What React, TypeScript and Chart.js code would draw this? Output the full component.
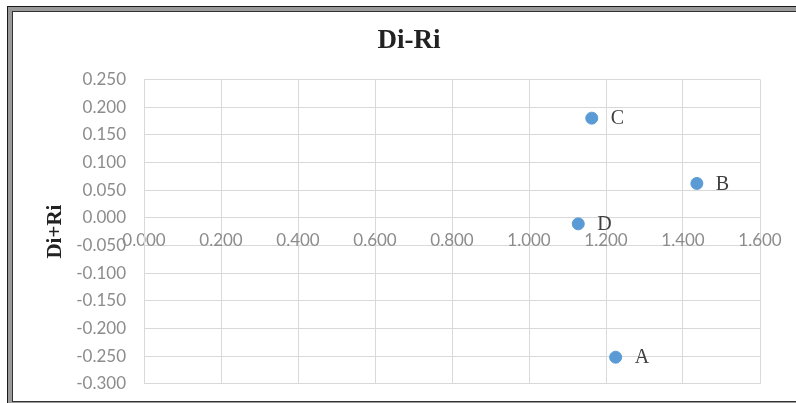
import React, { useEffect, useRef } from "react";
import { Chart, registerables } from "chart.js";

Chart.register(...registerables);

const chartTitle = "Di-Ri";
const yAxisTitle = "Di+Ri";
const pointLabels = ["A", "B", "C", "D"];
const xValues = [1.225, 1.436, 1.163, 1.128];
const yValues = [-0.252, 0.062, 0.18, -0.011];
const xMin = 0;
const xMax = 1.6;
const xStep = 0.2;
const yMin = -0.3;
const yMax = 0.25;
const yStep = 0.05;

const fmt = (v: number) => (Math.abs(v) < 1e-9 ? 0 : v).toFixed(3);

const labelPlugin = {
  id: "pointLabelsPlugin",
  afterDatasetsDraw(chart: any) {
    const ctx = chart.ctx;
    const meta = chart.getDatasetMeta(0);
    ctx.save();
    ctx.font = '20px "Liberation Serif"';
    ctx.fillStyle = "#404040";
    ctx.textAlign = "left";
    ctx.textBaseline = "middle";
    meta.data.forEach((el: any, i: number) => {
      ctx.fillText(pointLabels[i], el.x + 19, el.y + 1);
    });
    ctx.restore();
  },
};

export default function App() {
  const ref = useRef<HTMLCanvasElement | null>(null);

  useEffect(() => {
    if (!ref.current) return;
    const gridColor = "#d9d9d9";
    const tickFont = { family: "Lato", size: 17 };
    const chart = new Chart(ref.current, {
      type: "scatter",
      data: {
        datasets: [
          {
            data: xValues.map((x, i) => ({ x, y: yValues[i] })),
            backgroundColor: "#5b9bd5",
            borderColor: "#5b9bd5",
            pointRadius: 6,
            pointHoverRadius: 6,
            yAxisID: "y",
          },
        ],
      },
      options: {
        animation: false,
        responsive: false,
        devicePixelRatio: 1,
        layout: { padding: { left: 0, right: 0, top: 0, bottom: 4 } },
        plugins: {
          legend: { display: false },
          tooltip: { enabled: false },
          title: {
            display: true,
            text: chartTitle,
            color: "#222222",
            font: { family: "Liberation Serif", size: 27, weight: "bold" },
            padding: { top: 12, bottom: 22 },
          },
        },
        scales: {
          x: {
            type: "linear",
            position: { y: 0 } as any,
            min: xMin,
            max: xMax,
            grid: { color: gridColor, drawTicks: false },
            border: { color: gridColor },
            ticks: {
              stepSize: xStep,
              color: "#8c8c8c",
              font: tickFont,
              padding: 13,
              maxRotation: 0,
              autoSkip: false,
              callback: (v: any) => fmt(Number(v)),
            },
            afterFit: (s: any) => {
              s.height = 0;
            },
          },
          y: {
            type: "linear",
            position: "left",
            min: yMin,
            max: yMax,
            grid: { color: gridColor, drawTicks: false },
            border: { color: gridColor },
            ticks: {
              stepSize: yStep,
              color: "#8c8c8c",
              font: tickFont,
              padding: 18,
              autoSkip: false,
              callback: (v: any) => fmt(Number(v)),
            },
            title: {
              display: true,
              text: yAxisTitle,
              color: "#222222",
              font: { family: "Liberation Serif", size: 21, weight: "bold" },
              padding: { top: 29, bottom: 0 },
            },
            afterFit: (s: any) => {
              s.width = 130;
            },
          },
          y2: {
            type: "linear",
            position: "right",
            min: yMin,
            max: yMax,
            grid: { display: false, drawTicks: false },
            border: { display: false },
            ticks: { display: false },
            afterFit: (s: any) => {
              s.width = 44;
            },
          },
        },
      },
      plugins: [labelPlugin],
    });
    return () => chart.destroy();
  }, []);

  return (
    <div
      style={{
        position: "absolute",
        left: 0,
        top: 0,
        width: 796,
        height: 403,
        overflow: "hidden",
        background: "#ffffff",
      }}
    >
      <div
        style={{
          position: "absolute",
          left: 7,
          top: 6,
          width: 800,
          height: 401,
          boxSizing: "border-box",
          border: "1px solid #1a1a1a",
          boxShadow: "inset 0 0 0 4px #9a9a9a, inset 0 0 0 5px #333333",
        }}
      />
      <canvas
        ref={ref}
        width={790}
        height={399}
        style={{ position: "absolute", left: 14, top: 13, width: 790, height: 399 }}
      />
    </div>
  );
}
